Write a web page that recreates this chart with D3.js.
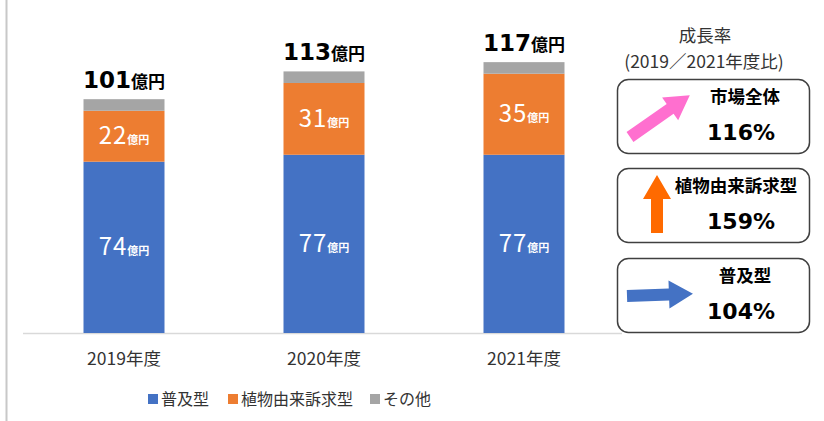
<!DOCTYPE html>
<html>
<head>
<meta charset="utf-8">
<script src="https://cdn.jsdelivr.net/npm/d3@7"></script>
<style>
  html, body { margin: 0; padding: 0; background: #fff; }
  svg { display: block; font-family: "Noto Sans CJK JP", "Noto Sans", sans-serif; }
</style>
</head>
<body>
<div id="chart"></div>
<script>
// データ（単位：億円）
const years = ["2019年度", "2020年度", "2021年度"];
const seriesNames = ["普及型", "植物由来訴求型", "その他"];
const fukyuVals = [74, 77, 77];
const shokubutsuVals = [22, 31, 35];
const otherVals = [5, 5, 5];
const totalVals = [101, 113, 117];

// 成長率（2019／2021年度比）
const growthNames = ["市場全体", "植物由来訴求型", "普及型"];
const growthRates = [116, 159, 104];

const colors = ["#4472C4", "#ED7D31", "#A5A5A5"];
const arrowColors = ["#FF6FCF", "#FF6A00", "#4472C4"];

const width = 824, height = 421;
const baseY = 333;

const svg = d3.select("#chart").append("svg")
  .attr("width", width).attr("height", height);

// 左の枠線
svg.append("line")
  .attr("x1", 6.5).attr("x2", 6.5).attr("y1", 0).attr("y2", height)
  .attr("stroke", "#c8c8c8").attr("stroke-width", 2);

const rows = years.map((y, i) => ({
  year: y,
  [seriesNames[0]]: fukyuVals[i],
  [seriesNames[1]]: shokubutsuVals[i],
  [seriesNames[2]]: otherVals[i],
  total: totalVals[i]
}));

const stacked = d3.stack().keys(seriesNames)(rows);

const x = d3.scaleBand()
  .domain(years)
  .range([24, 624])
  .paddingInner(0.595)
  .paddingOuter(0.2975);

const y = d3.scaleLinear()
  .domain([0, 120])
  .range([baseY, baseY - 120 * 2.315]);

const g = svg.append("g");

// 横軸
g.append("line")
  .attr("x1", 23).attr("x2", 622)
  .attr("y1", baseY + 0.5).attr("y2", baseY + 0.5)
  .attr("stroke", "#d9d9d9").attr("stroke-width", 1.5);

// 積み上げ棒
g.selectAll("g.series")
  .data(stacked)
  .join("g")
  .attr("class", "series")
  .attr("fill", (d, i) => colors[i])
  .selectAll("rect")
  .data(d => d)
  .join("rect")
  .attr("x", d => x(d.data.year))
  .attr("y", d => y(d[1]))
  .attr("width", x.bandwidth())
  .attr("height", d => y(d[0]) - y(d[1]));

// セグメントラベル（普及型・植物由来訴求型）
stacked.slice(0, 2).forEach(layer => {
  const t = g.selectAll(null)
    .data(layer)
    .join("text")
    .attr("x", d => x(d.data.year) + x.bandwidth() / 2)
    .attr("y", d => (y(d[0]) + y(d[1])) / 2 + 8)
    .attr("text-anchor", "middle")
    .attr("fill", "#fff");
  t.append("tspan")
    .style("font-size", "24px")
    .style("letter-spacing", "1px")
    .text(d => d[1] - d[0]);
  t.append("tspan")
    .style("font-size", "11px")
    .style("font-weight", "bold")
    .text("億円");
});

// 合計ラベル
const tot = g.selectAll("text.total")
  .data(rows)
  .join("text")
  .attr("class", "total")
  .attr("x", d => x(d.year) + x.bandwidth() / 2)
  .attr("y", d => y(d.total) - 11)
  .attr("text-anchor", "middle")
  .attr("fill", "#000")
  .style("font-weight", "bold");
tot.append("tspan")
  .style("font-family", "'DejaVu Sans', sans-serif")
  .style("font-size", "23px")
  .text(d => d.total);
tot.append("tspan")
  .style("font-size", "17px")
  .text("億円");

// カテゴリ軸ラベル
g.selectAll("text.cat")
  .data(years)
  .join("text")
  .attr("class", "cat")
  .attr("x", d => x(d) + x.bandwidth() / 2)
  .attr("y", 365)
  .attr("text-anchor", "middle")
  .attr("fill", "#333")
  .style("font-size", "17.5px")
  .text(d => d);

// 凡例
const legendX = [148, 228, 370];
const leg = svg.append("g").selectAll("g")
  .data(seriesNames)
  .join("g")
  .attr("transform", (d, i) => `translate(${legendX[i]},399)`);
leg.append("rect")
  .attr("x", 0).attr("y", -5).attr("width", 10).attr("height", 10)
  .attr("fill", (d, i) => colors[i]);
leg.append("text")
  .attr("x", 13).attr("y", 6)
  .attr("fill", "#333")
  .style("font-size", "16px")
  .text(d => d);

// 成長率パネル
const panel = svg.append("g");
panel.append("text")
  .attr("x", 705).attr("y", 42)
  .attr("text-anchor", "middle").attr("fill", "#333")
  .style("font-size", "17.5px")
  .text("成長率");
panel.append("text")
  .attr("x", 704).attr("y", 68)
  .attr("text-anchor", "middle").attr("fill", "#333")
  .style("font-size", "17.5px")
  .text("(2019／2021年度比)");

const boxTop = [79.5, 168.5, 258.5];
// 矢印: 始点, 角度, 長さ
const arrows = [
  { x: 630, y: 137, angle: -35, len: 73 },
  { x: 657, y: 233, angle: -90, len: 58 },
  { x: 627, y: 296, angle: -2, len: 66 }
];
const arrowPath = len => {
  const sw = 6, hw = 14, hl = 24;
  return `M0,${-sw} L${len - hl},${-sw} L${len - hl},${-hw} L${len},0 ` +
         `L${len - hl},${hw} L${len - hl},${sw} L0,${sw} Z`;
};

const box = panel.selectAll("g.box")
  .data(growthNames)
  .join("g")
  .attr("class", "box");

box.append("rect")
  .attr("x", 617.5).attr("y", (d, i) => boxTop[i])
  .attr("width", 192).attr("height", 74)
  .attr("rx", 11)
  .attr("fill", "#fff")
  .attr("stroke", "#404040").attr("stroke-width", 1.5);

box.append("path")
  .attr("transform", (d, i) => `translate(${arrows[i].x},${arrows[i].y}) rotate(${arrows[i].angle})`)
  .attr("d", (d, i) => arrowPath(arrows[i].len))
  .attr("fill", (d, i) => arrowColors[i]);

box.append("text")
  .attr("x", (d, i) => i === 1 ? 736 : 745)
  .attr("y", (d, i) => boxTop[i] + 23)
  .attr("text-anchor", "middle").attr("fill", "#000")
  .style("font-size", "17.5px").style("font-weight", "bold")
  .text(d => d);

box.append("text")
  .attr("x", 741)
  .attr("y", (d, i) => boxTop[i] + 60)
  .attr("text-anchor", "middle").attr("fill", "#000")
  .style("font-family", "'DejaVu Sans', sans-serif")
  .style("font-size", "22px").style("font-weight", "bold")
  .text((d, i) => growthRates[i] + "%");
</script>
</body>
</html>
